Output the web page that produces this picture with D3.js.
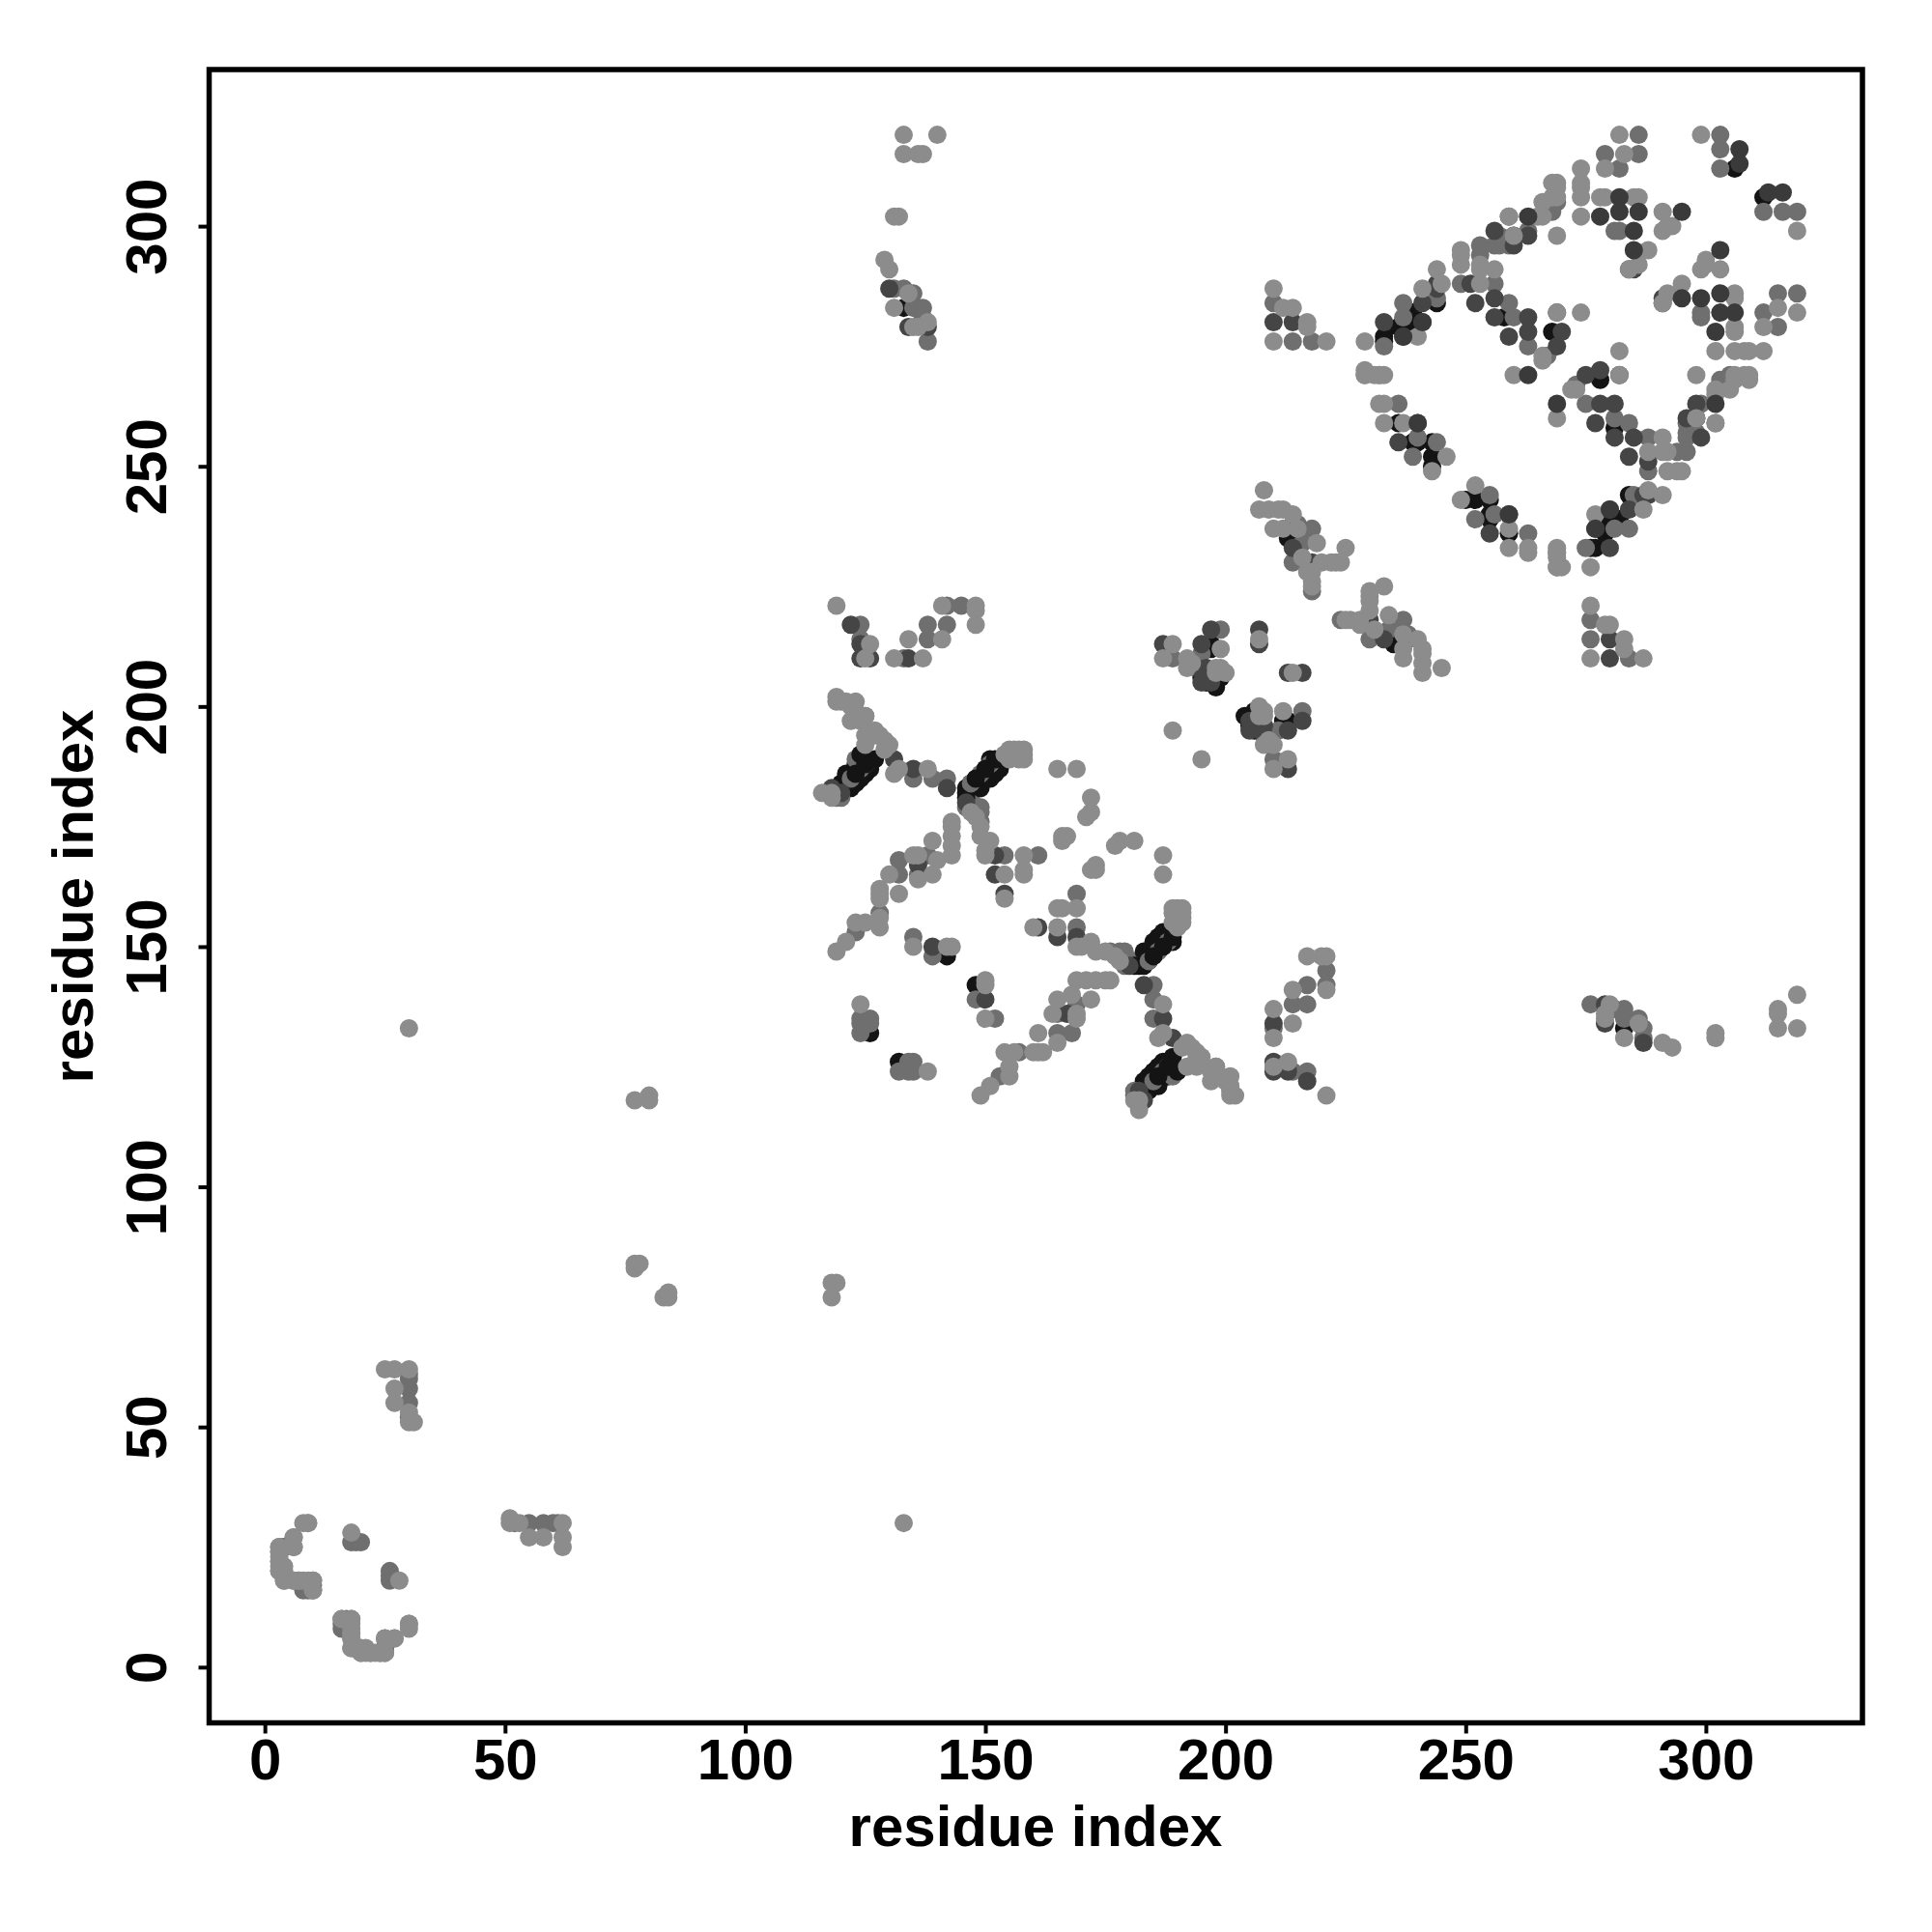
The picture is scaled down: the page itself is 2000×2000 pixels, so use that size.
<!DOCTYPE html>
<html><head><meta charset="utf-8">
<script src="https://cdn.jsdelivr.net/npm/d3@7"></script>
<style>html,body{margin:0;padding:0;background:#fff}svg{display:block}</style></head>
<body><svg id="c" width="2000" height="2000"></svg>
<script>
const tickValues=[0,50,100,150,200,250,300];
const axisTitle="residue index";
const layerColours=["#6f6f6f","#141414","#707070","#141414","#6f6f6f","#454545","#8c8c8c","#3a3a3a"];
// residue contacts (i<j); the map is symmetric, both (i,j) and (j,i) are drawn
const contactsUnder=[[121,184],[147,181],[146,179]];
const contactsBlack=[[120,183],[120,184],[121,186],[122,183],[123,184],[123,188],[124,185],[125,186],[126,187],[127,189],
[146,181],[146,182],[146,183],[147,184],[149,183],[151,185],[151,189],[152,186],[153,187],
[142,148],[126,132],[133,283],[195,206],[196,205],[196,206],[198,204],[199,206],[197,212],[197,213],[214,234],[214,237],[213,235],
[233,277],[233,276],[236,279],[237,280],[238,280],[239,282],[240,280],[244,284],[236,259],[239,255],[240,255],[243,250],[243,252],[243,255],[258,281],[260,298],[268,278],[306,312]];
const contactsStripe=[[122,185],[124,187],[125,188],[123,189],[147,184],[149,186],[151,188]];
const contactsBlackTop=[[123,186],[125,188],[126,189],[124,190],[148,185],[150,187],[152,189]];
const contactsMid=[[3,24],[3,25],[4,25],[8,16],[9,16],[10,16],[10,17],[10,18],[18,26],[19,26],[20,26],[4,25],[30,58],[30,55],[30,61],[30,52],[30,60],
[119,181],[120,181],[124,214],[124,217],[133,210],[138,214],[138,217],[142,217],[142,221],[145,221],[125,198],[135,185],[139,185],[142,185],[149,178],[149,179],[149,176],[154,169],[161,169],
[138,169],[132,168],[136,165],[132,165],[128,157],[123,153],[135,152],[139,148],[124,135],[126,135],[126,134],[124,134],[124,132],
[133,287],[131,287],[135,283],[137,283],[136,283],[138,276],[135,286],[137,281],[189,210],[199,216],[195,211],[215,238],[218,237],[214,230],[218,224],[210,284],[214,276],[218,276],[216,234],
[233,275],[237,284],[237,281],[244,285],[236,263],[240,256],[239,252],[244,255],[249,288],[253,296],[253,294],[256,296],[257,296],[257,298],[259,296],[259,302],[263,275],[259,284],[260,281],[267,273],[263,299],[281,299],[303,319],[303,316],[286,315],[279,315],[282,312],[303,312],[286,319],[282,299],[269,305],[267,305],[268,304],[268,303],[256,288]];
const contactsDark=[[118,183],[120,182],[122,217],[124,213],[124,210],[126,210],[134,210],[131,189],[135,187],[142,183],[146,180],[139,150],[152,169],[152,165],[154,161],[136,167],
[130,287],[134,279],[138,279],[187,213],[194,208],[195,213],[196,208],[197,216],[197,205],[195,205],[214,233],[207,216],[207,213],[218,230],[214,238],
[210,280],[214,280],[233,280],[237,277],[241,280],[241,284],[244,287],[244,288],[240,259],[236,255],[251,288],[252,284],[256,285],[256,281],[256,299],[260,296],[263,298],[259,277],[263,281],[263,278],[269,275],[270,278],[269,282],[285,291],[284,291]];
const contactsLight=[[3,20],[3,21],[3,22],[3,23],[4,18],[4,20],[4,21],[6,18],[7,18],[8,18],[9,18],[8,30],[9,30],[6,27],[6,25],[18,28],[10,18],[10,16],[4,18],[6,18],[7,18],[3,20],[3,22],[3,24],[3,25],[6,25],[6,27],[9,30],
[25,62],[27,62],[30,62],[27,58],[27,55],[30,53],[30,51],[31,51],[30,133],[77,118],[80,118],[80,119],[77,83],[77,84],[78,84],[118,181],
[119,221],[124,138],[126,213],[125,210],[131,210],[137,210],[134,214],[141,214],[141,221],[148,221],[148,220],[148,217],
[119,202],[119,201],[120,201],[121,201],[123,201],[122,200],[123,199],[124,197],[122,197],[125,198],[127,195],[125,194],[127,194],[128,194],[129,193],[129,191],[130,192],[125,192],[116,182],[118,182],[132,187],[131,186],[138,187],
[154,190],[155,191],[156,191],[157,191],[158,191],[158,190],[158,189],[157,189],[155,189],[147,178],[148,177],[149,173],[149,175],[151,172],[150,169],[150,170],[154,165],[158,165],[158,166],[158,169],[154,160],
[165,187],[169,187],[172,181],[172,178],[171,177],[167,173],[166,172],[166,173],
[143,176],[143,175],[143,173],[143,171],[139,172],[143,169],[140,168],[135,169],[136,169],[139,165],[136,164],[130,165],[132,161],[128,162],[128,160],[128,161],[128,156],[128,154],[125,155],[123,155],[121,151],[119,149],[135,150],[142,150],[143,150],
[133,319],[140,319],[133,315],[136,315],[137,315],[131,302],[132,302],[129,293],[130,291],[134,286],[131,283],[135,279],[136,279],[138,280],
[189,195],[189,213],[187,210],[192,210],[192,208],[193,209],[199,212],[200,207],[199,208],[198,208],[198,207],[208,245],[207,241],[209,241],[211,241],[212,241],[214,240],[210,237],[212,237],[215,237],[219,234],[216,231],[220,230],[222,230],[223,230],[224,230],[225,233],[218,226],[218,225],[217,228],[218,228],[207,214],
[210,287],[212,283],[214,283],[210,276],[217,280],[217,279],[221,276],[229,276],[240,277],[241,287],[244,291],[245,288],[229,270],[229,269],[231,269],[233,269],[232,263],[233,263],[233,259],[237,259],[246,252],[243,249],[249,295],[249,294],[249,292],[253,292],[253,291],[253,288],[256,291],[259,302],[260,298],[266,305],[268,309],[268,306],[269,306],[269,308],[269,298],[266,302],[265,302],[274,312],[274,309],[274,308],[274,306],[274,302],
[282,319],[283,315],[279,312],[279,306],[278,306],[286,306],[285,306],[288,295],[286,292],[284,291],[291,303],[291,299],[292,300],[293,300],[299,319],[269,282],[274,282],[266,272],[266,273],[260,269],[269,232],[229,269],[232,269],[269,309]];
const contactsOver=[[263,302],[282,303],[282,306],[286,303],[285,299],[285,295],[278,302],[295,303],[307,316],[307,313],[263,269],[241,280],[237,277],[240,259]];

const svg=d3.select("#c");
const x=d3.scaleLinear().domain([-11.6,332.6]).range([216.5,1928]);
const y=d3.scaleLinear().domain([-11.6,332.6]).range([1783.5,72]);
const layers=[contactsUnder,contactsBlack,contactsStripe,contactsBlackTop,contactsMid,contactsDark,contactsLight,contactsOver];
layers.forEach((pairs,k)=>{
  const pts=pairs.flatMap(([a,b])=>[[a,b],[b,a]]);
  svg.append("g").attr("fill",layerColours[k]).selectAll("circle").data(pts).join("circle")
    .attr("cx",d=>x(d[0])).attr("cy",d=>y(d[1])).attr("r",9.5);
});
svg.append("rect").attr("x",x.range()[0]).attr("y",y.range()[1])
  .attr("width",x.range()[1]-x.range()[0]).attr("height",y.range()[0]-y.range()[1])
  .attr("fill","none").attr("stroke","#000").attr("stroke-width",5.5);
const font="'Liberation Sans',Arial,sans-serif";
const gx=svg.append("g").attr("transform",`translate(0,${y.range()[0]})`)
  .call(d3.axisBottom(x).tickValues(tickValues).tickSize(11).tickPadding(0).tickFormat(d3.format("d")));
const gy=svg.append("g").attr("transform",`translate(${x.range()[0]},0)`)
  .call(d3.axisLeft(y).tickValues(tickValues).tickSize(11).tickPadding(0).tickFormat(d3.format("d")));
[gx,gy].forEach(g=>{g.select(".domain").remove();
  g.selectAll("line").attr("stroke","#000").attr("stroke-width",4);
  g.selectAll("text").attr("fill","#000").style("font-family",font).style("font-weight","bold").style("font-size","60px");});
gx.selectAll("text").attr("dy",null).attr("y",58).attr("text-anchor","middle");
gy.selectAll("text").attr("dy",null).attr("x",null).attr("y",null)
  .attr("text-anchor","middle").attr("transform","translate(-45,0) rotate(-90)");
svg.append("text").attr("x",1072).attr("y",1911).attr("text-anchor","middle").text(axisTitle)
  .style("font-family",font).style("font-weight","bold").style("font-size","60px");
svg.append("text").attr("transform","translate(96,928) rotate(-90)").attr("text-anchor","middle").text(axisTitle)
  .style("font-family",font).style("font-weight","bold").style("font-size","60px");
</script></body></html>
